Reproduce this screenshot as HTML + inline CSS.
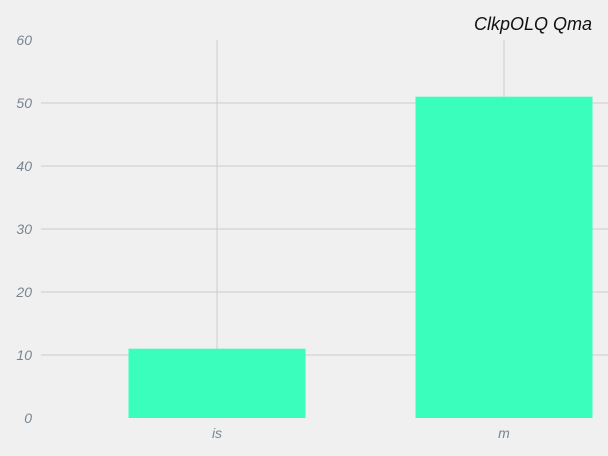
<!DOCTYPE html>
<html><head><meta charset="utf-8"><style>
body{margin:0;background:#f0f0f0;}
svg{display:block;font-family:"Liberation Sans",sans-serif;}
</style></head><body>
<svg id="chart" width="608" height="456" viewBox="0 0 608 456">
<rect width="608" height="456" fill="#f0f0f0"/>
<g id="grid"></g>
<g id="bars"></g>
<g id="yticks"></g>
<g id="xticks"></g>
<text x="592" y="30" text-anchor="end" font-size="18" font-style="italic" fill="#111">ClkpOLQ Qma</text>
</svg>
<script>
const categories = ["is", "m"];
const values = [11, 51];
const yTicks = [0, 10, 20, 30, 40, 50, 60];
const NS = "http://www.w3.org/2000/svg";
function y(v){ return 418 - v * 6.3; }
function x(i){ return 217 + i * 287; }
const barW = 177;
function mk(tag, attrs, parent){ const e=document.createElementNS(NS,tag); for(const k in attrs) e.setAttribute(k,attrs[k]); parent.appendChild(e); return e; }
const grid=document.getElementById('grid'), bars=document.getElementById('bars'), yt=document.getElementById('yticks'), xt=document.getElementById('xticks');
yTicks.forEach(t=>{
  if(t>0 && t<60){
    const l=mk('line',{x1:41,x2:608,y1:y(t),y2:y(t),stroke:'#cbcbcb','stroke-width':1},grid);
    
    
  }
  const tx=mk('text',{x:32,y:y(t)+5,'text-anchor':'end','font-size':14,'font-style':'italic',fill:'#7a8590'},yt);
  tx.textContent=t;
  
  
});
categories.forEach((c,i)=>{
  const g=mk('line',{x1:x(i),x2:x(i),y1:y(60),y2:418,stroke:'#cbcbcb','stroke-width':1},grid);
  
  
  const b=mk('rect',{x:x(i)-barW/2,y:y(values[i]),width:barW,height:418-y(values[i]),fill:'#3affbc'},bars);
  
  
  const t=mk('text',{x:x(i),y:438,'text-anchor':'middle','font-size':14,'font-style':'italic',fill:'#7a8590'},xt);
  t.textContent=c;
  
  
});
</script>
</body></html>
